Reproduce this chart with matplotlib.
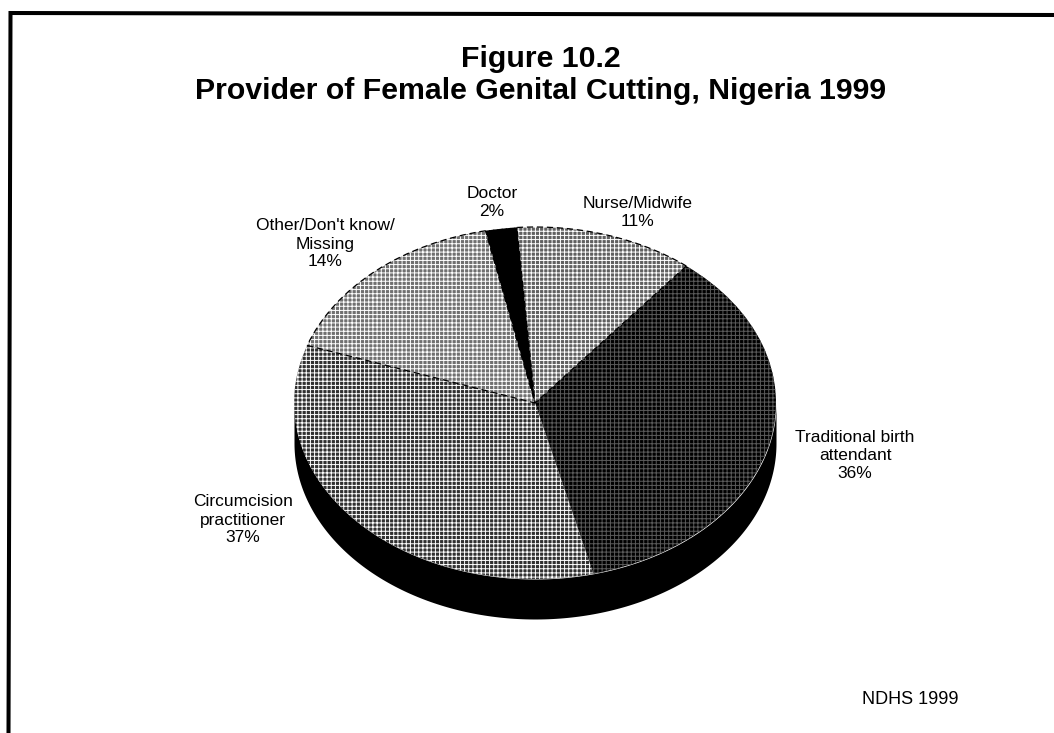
import numpy as np
import matplotlib
matplotlib.use('Agg')
import matplotlib.pyplot as plt

title = 'Figure 10.2\nProvider of Female Genital Cutting, Nigeria 1999'
source = 'NDHS 1999'
categories = ['Nurse/Midwife', 'Traditional birth\nattendant', 'Circumcision\npractitioner',
              "Other/Don't know/\nMissing", 'Doctor']
percents = [11, 36, 37, 14, 2]
# shares as the slices are actually drawn in the printed pie, not quite to scale
drawn_shares = [12.0, 35.3, 34.2, 16.4, 2.1]
face_colors = ['#606060', '#000000', '#303030', '#707070', '#000000']
hatch_colors = ['#ffffff', '#5a5a5a', '#ffffff', '#ffffff', '#000000']
outlined = [True, False, False, True, False]
label_x = [638, 855, 243, 325, 492]
label_y = [213, 455, 520, 244, 202]

W, H = 1054, 733
plt.rcParams['font.family'] = ['Liberation Sans', 'DejaVu Sans']
plt.rcParams['hatch.linewidth'] = 0.7

fig = plt.figure(figsize=(W / 100, H / 100), dpi=100)
bg = fig.add_axes([0, 0, 1, 1])
bg.set_xlim(0, W)
bg.set_ylim(H, 0)
bg.axis('off')

# page frame, open at the bottom and running off the right edge
bg.plot([8.5, 10.5, W], [H, 13, 15], color='black', lw=2.9, solid_joinstyle='miter')

bg.text(541, 75, title, ha='center', va='center', fontsize=21.8, fontweight='bold', linespacing=1.2)
bg.text(910, 699, source, ha='center', va='center', fontsize=13)

# pie axes sized to the top ellipse, black rim drawn below it
cx, cy, rx, ry, depth = 535, 403, 241, 176, 40
ax = fig.add_axes([(cx - rx) / W, 1 - (cy + ry) / H, 2 * rx / W, 2 * ry / H])

t = np.linspace(np.pi, 2 * np.pi, 200)
d = depth / ry
ax.fill_between(np.cos(t), np.sin(t), np.sin(t) - d, color='black', lw=0, clip_on=False)

wedges, _ = ax.pie(drawn_shares, startangle=94.3, counterclock=False, radius=1,
                   colors=face_colors, wedgeprops={'linewidth': 0})
for w, hc in zip(wedges, hatch_colors):
    w.set_edgecolor(hc)
    w.set_hatch('++++')
    w.set_linewidth(0)

# rough dark outline on the lighter slices
edges, _ = ax.pie(drawn_shares, startangle=94.3, counterclock=False, radius=1,
                  wedgeprops={'fill': False, 'linewidth': 0})
for e, on in zip(edges, outlined):
    if on:
        e.set_edgecolor('black')
        e.set_linewidth(0.9)
        e.set_linestyle((0, (5, 3)))

ax.set_aspect('auto')
ax.set_xlim(-1, 1)
ax.set_ylim(-1, 1)
ax.patch.set_alpha(0)

for name, pct, x, y in zip(categories, percents, label_x, label_y):
    bg.text(x, y, f'{name}\n{pct}%', ha='center', va='center', fontsize=12.5, linespacing=1.25, zorder=5)

fig.savefig('out.png', dpi=100)
